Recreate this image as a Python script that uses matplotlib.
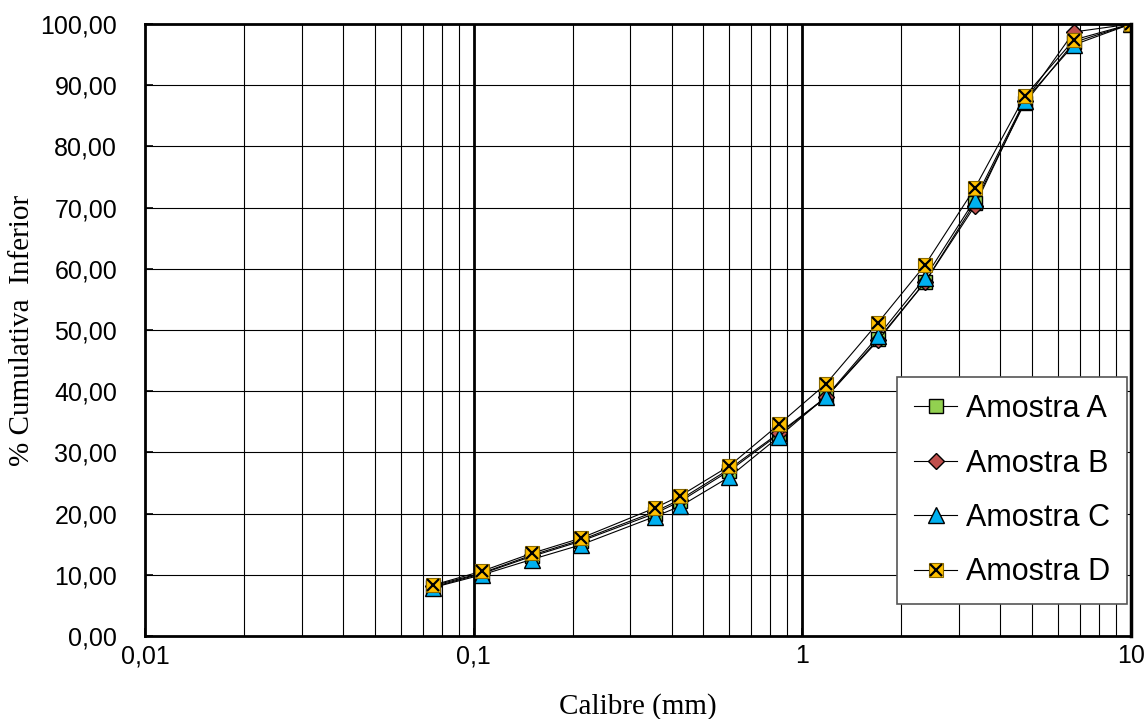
import matplotlib
matplotlib.use('Agg')
import matplotlib.pyplot as plt
from matplotlib.ticker import FixedLocator, FuncFormatter, NullFormatter
from matplotlib.legend_handler import HandlerTuple

calibre = [0.075, 0.106, 0.150, 0.212, 0.355, 0.425, 0.600, 0.850, 1.18, 1.70, 2.36, 3.35, 4.75, 6.70, 10.0]
amostra_a = [8.0, 10.2, 13.0, 15.5, 20.0, 22.0, 27.0, 33.0, 39.0, 48.5, 57.8, 70.8, 87.1, 97.0, 100.0]
amostra_b = [8.2, 10.3, 13.2, 15.7, 20.3, 22.3, 27.3, 33.2, 39.0, 48.3, 57.8, 70.3, 87.4, 98.7, 100.0]
amostra_c = [7.9, 10.0, 12.5, 14.9, 19.5, 21.2, 26.0, 32.6, 39.1, 49.0, 58.5, 71.3, 87.5, 96.6, 100.0]
amostra_d = [8.3, 10.6, 13.5, 16.0, 20.9, 22.9, 27.8, 34.6, 41.2, 51.2, 60.6, 73.2, 88.2, 97.4, 100.0]

fig = plt.figure(figsize=(11.48, 7.19), dpi=100)
ax = fig.add_axes([0.1263, 0.1154, 0.8589, 0.8512])

ms = 10
la, = ax.plot(calibre, amostra_a, color='black', lw=0.8, marker='s', ms=ms,
              mfc='#92D050', mec='black', mew=1.0)
lb, = ax.plot(calibre, amostra_b, color='black', lw=0.8, marker='D', ms=ms * 0.8,
              mfc='#C0504D', mec='black', mew=1.0)
lc, = ax.plot(calibre, amostra_c, color='black', lw=0.8, marker='^', ms=ms * 1.1,
              mfc='#00B0F0', mec='black', mew=1.0)
ld, = ax.plot(calibre, amostra_d, color='black', lw=0.8, marker='s', ms=ms,
              mfc='#FFC000', mec='#8a6a00', mew=0.8)
ldx, = ax.plot(calibre, amostra_d, ls='none', marker='x', ms=ms * 0.9,
               mec='black', mew=1.6)

ax.set_xscale('log')
ax.set_xlim(0.01, 10)
ax.set_ylim(0, 100)

# grid
minors = [m * 10.0 ** e for e in (-2, -1, 0) for m in range(2, 10)]
for v in minors:
    ax.axvline(v, color='black', lw=0.8, zorder=0)
for v in (0.1, 1):
    ax.axvline(v, color='black', lw=2.0, zorder=0)
for y in range(10, 101, 10):
    ax.axhline(y, color='black', lw=0.8, zorder=0)

ax.xaxis.set_major_locator(FixedLocator([0.01, 0.1, 1, 10]))
ax.xaxis.set_minor_formatter(NullFormatter())
ax.xaxis.set_major_formatter(FuncFormatter(lambda v, p: ('%g' % v).replace('.', ',')))
ax.yaxis.set_major_locator(FixedLocator(range(0, 101, 10)))
ax.yaxis.set_major_formatter(FuncFormatter(lambda v, p: ('%.2f' % v).replace('.', ',')))
ax.tick_params(axis='both', labelsize=18, which='major', direction='in', length=6, width=1.2)
ax.tick_params(axis='y', pad=20)
ax.tick_params(axis='x', pad=6)
ax.tick_params(axis='x', which='minor', length=0)
for lab in ax.get_xticklabels() + ax.get_yticklabels():
    lab.set_family('Liberation Sans')

ax.spines['left'].set_linewidth(2)
ax.spines['bottom'].set_linewidth(2)
ax.spines['right'].set_linewidth(2.5)
ax.spines['top'].set_linewidth(2)

ax.set_xlabel('Calibre (mm)', family='Liberation Serif', fontsize=21, labelpad=18)
ax.set_ylabel('% Cumulativa  Inferior', family='Liberation Serif', fontsize=21, labelpad=4)

leg = ax.legend([la, lb, lc, (ld, ldx)], ['Amostra A', 'Amostra B', 'Amostra C', 'Amostra D'],
                handler_map={tuple: HandlerTuple(ndivide=1, pad=0)},
                loc='lower right', bbox_to_anchor=(0.996, 0.052), borderaxespad=0,
                prop={'family': 'Liberation Sans', 'size': 22}, fancybox=False,
                edgecolor='#555555', framealpha=1, labelspacing=0.8,
                handlelength=1.4, handletextpad=0.3, borderpad=0.55)
leg.get_frame().set_linewidth(1.2)

fig.savefig('out.png', dpi=100)
